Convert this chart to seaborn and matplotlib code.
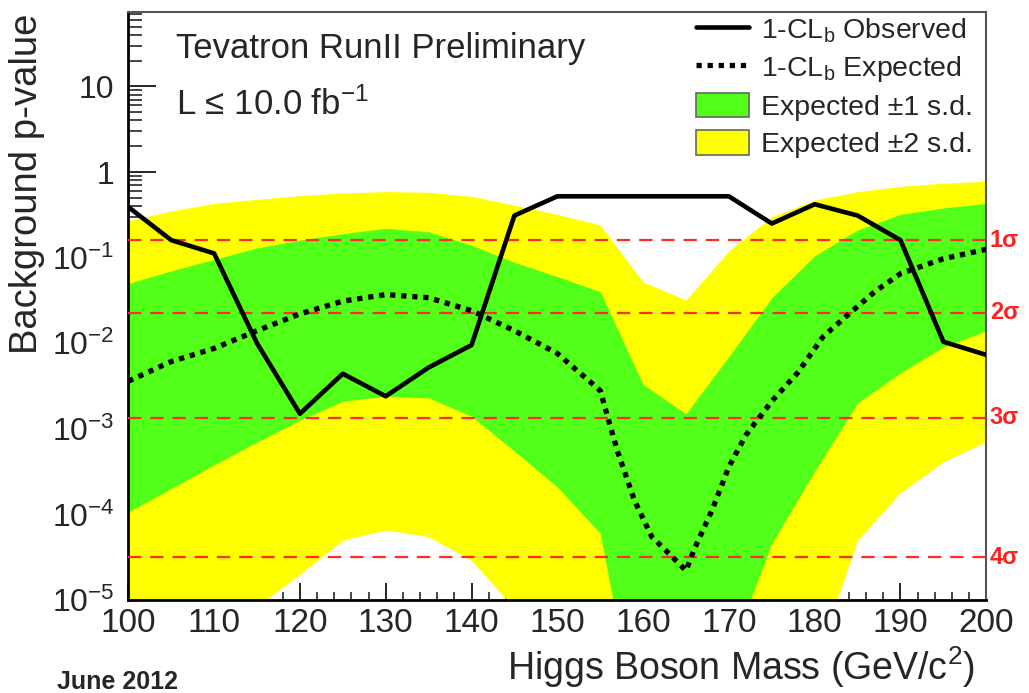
import matplotlib
matplotlib.use("Agg")
import matplotlib.pyplot as plt
import matplotlib.ticker as mticker
import matplotlib.transforms as mtransforms
from matplotlib.lines import Line2D
from matplotlib.patches import Patch
import seaborn as sns

# ── Data ──────────────────────────────────────────────────────────────────────
mass = [100, 105, 110, 115, 120, 125, 130, 135, 140, 145, 150,
        155, 160, 165, 170, 175, 180, 185, 190, 195, 200]

observed = [0.39, 0.16, 0.112, 0.010, 1.5e-3, 4.4e-3, 2.4e-3, 5.2e-3, 9.5e-3, 0.31, 0.52,
            0.52, 0.52, 0.52, 0.52, 0.25, 0.42, 0.31, 0.16, 0.0104, 7.3e-3]

exp_mass = [100, 105, 110, 115, 120, 125, 130, 135, 140, 145, 150, 155, 157, 159,
            161, 163, 165, 166, 168, 170, 172, 175, 178, 181, 184, 187, 190, 195, 200]
expected = [3.6e-3, 6.1e-3, 8.7e-3, 0.014, 0.022, 0.031, 0.037, 0.034, 0.024, 0.014,
            7.6e-3, 2.8e-3, 5.5e-4, 1.45e-4, 5.5e-5, 3.5e-5, 2.2e-5, 4.0e-5, 1.1e-4,
            3.6e-4, 8.5e-4, 2.1e-3, 4.5e-3, 0.012, 0.022, 0.040, 0.065, 0.097, 0.125]

band2_hi = [0.27, 0.35, 0.43, 0.48, 0.53, 0.57, 0.59, 0.58, 0.52, 0.41, 0.32,
            0.24, 0.052, 0.032, 0.12, 0.30, 0.47, 0.59, 0.68, 0.74, 0.78]
band1_hi = [0.05, 0.07, 0.095, 0.13, 0.16, 0.19, 0.22, 0.20, 0.14, 0.088, 0.06,
            0.04, 3.3e-3, 1.5e-3, 7e-3, 0.034, 0.105, 0.21, 0.32, 0.38, 0.43]
band1_lo = [1.07e-4, 2.0e-4, 3.8e-4, 7e-4, 1.26e-3, 2.1e-3, 2.4e-3, 2.3e-3, 1.4e-3, 5.5e-4, 2.1e-4,
            6e-5, 1.5e-7, 1e-7, 2.2e-6, 4.6e-5, 3.2e-4, 2e-3, 4.5e-3, 9e-3, 0.014]
band2_lo = [1e-7, 3e-7, 1.2e-6, 8.5e-6, 2e-5, 5e-5, 6.6e-5, 5.5e-5, 2.9e-5, 8e-6, 1e-7,
            1e-7, 1e-7, 1e-7, 1e-7, 1e-7, 1.8e-6, 5e-5, 1.8e-4, 4.1e-4, 7.1e-4]

sigma_pvals = [0.1587, 0.02275, 1.35e-3, 3.17e-5]
sigma_labels = ["1σ", "2σ", "3σ", "4σ"]

ytick_vals = [1e-5, 1e-4, 1e-3, 1e-2, 1e-1, 1, 10]
ytick_labels = [r"$10^{-5}$", r"$10^{-4}$", r"$10^{-3}$", r"$10^{-2}$", r"$10^{-1}$", "1", "10"]

GREEN = "#52ff18"
YELLOW = "#ffff00"

# ── Style ─────────────────────────────────────────────────────────────────────
sns.set_theme(style="ticks")
plt.rcParams["font.family"] = ["Liberation Sans", "DejaVu Sans"]
plt.rcParams["mathtext.fontset"] = "custom"
plt.rcParams["mathtext.rm"] = "Liberation Sans"
plt.rcParams["mathtext.it"] = "Liberation Sans:italic"
plt.rcParams["mathtext.bf"] = "Liberation Sans:bold"

fig = plt.figure(figsize=(10.29, 6.93), dpi=100)
ax = fig.add_axes([0.1247, 0.1342, 0.8338, 0.8492])

ax.fill_between(mass, band2_lo, band2_hi, color=YELLOW, lw=0, zorder=1)
ax.fill_between(mass, band1_lo, band1_hi, color=GREEN, lw=0, zorder=2)

for p in sigma_pvals:
    ax.axhline(p, color="#ff2a2a", lw=1.6, dashes=(6, 4), zorder=3)

sns.lineplot(x=exp_mass, y=expected, ax=ax, color="black", lw=3.8,
             linestyle=(0, (1, 1.1)), zorder=4)
sns.lineplot(x=mass, y=observed, ax=ax, color="black", lw=3.3, zorder=5)

ax.set_yscale("log")
ax.set_xlim(100, 200)
ax.set_ylim(1e-5, 75)

ax.yaxis.set_major_locator(mticker.FixedLocator(ytick_vals))
ax.yaxis.set_major_formatter(mticker.FixedFormatter(ytick_labels))
ax.yaxis.set_minor_locator(mticker.LogLocator(base=10, subs=range(2, 10), numticks=20))
ax.yaxis.set_minor_formatter(mticker.NullFormatter())
ax.xaxis.set_major_locator(mticker.MultipleLocator(10))
ax.xaxis.set_minor_locator(mticker.MultipleLocator(2))

ax.tick_params(axis="y", which="major", direction="in", length=20, width=1.4,
               labelsize=23, pad=10, right=False, left=True)
ax.tick_params(axis="y", which="minor", direction="in", length=10, width=1.2,
               right=False, left=True)
ax.tick_params(axis="x", which="major", direction="in", length=12, width=1.4,
               labelsize=24, pad=6, top=False, bottom=True)
ax.tick_params(axis="x", which="minor", direction="in", length=6, width=1.2, top=False)

for side in ["left", "bottom"]:
    ax.spines[side].set_color("black")
    ax.spines[side].set_linewidth(2.0)
for side in ["top", "right"]:
    ax.spines[side].set_color("#555555")
    ax.spines[side].set_linewidth(1.5)

ax.set_xlabel("Higgs Boson Mass (GeV/c$^{2}$)", fontsize=27, loc="right")
ax.xaxis.set_label_coords(0.987, -0.075)
ax.set_ylabel("Background p-value", fontsize=27.5, loc="top")
ax.yaxis.set_label_coords(-0.097, 0.997)

# sigma labels on the right
trans = mtransforms.blended_transform_factory(ax.transAxes, ax.transData)
for p, lab in zip(sigma_pvals, sigma_labels):
    ax.text(1.004, p, lab, transform=trans, color="#ff2020", fontsize=17,
            fontweight="bold", va="center", ha="left", clip_on=False)

ax.text(0.055, 0.921, "Tevatron RunII Preliminary", transform=ax.transAxes,
        fontsize=25, va="baseline")
ax.text(0.055, 0.824, "L ≤ 10.0 fb$^{-1}$", transform=ax.transAxes,
        fontsize=25, va="baseline")
fig.text(57 / 1029, 1 - 682 / 693, "June 2012", fontsize=18, fontweight="bold",
         va="center", ha="left")

handles = [
    Line2D([], [], color="black", lw=3.3),
    Line2D([], [], color="black", lw=3.8, linestyle=(0, (1, 1.1))),
    Patch(facecolor=GREEN, edgecolor="#666666", lw=1.2),
    Patch(facecolor=YELLOW, edgecolor="#666666", lw=1.2),
]
labels = ["1-CL$_\\mathrm{b}$ Observed", "1-CL$_\\mathrm{b}$ Expected",
          "Expected ±1 s.d.", "Expected ±2 s.d."]
fig.legend(handles, labels, loc="upper left", bbox_to_anchor=(696 / 1029, 1 - 16 / 693),
           frameon=False, fontsize=20.5, handlelength=1.85, handleheight=0.95,
           handletextpad=0.45, labelspacing=0.32, borderpad=0, borderaxespad=0)

fig.savefig("out.png", dpi=100)
